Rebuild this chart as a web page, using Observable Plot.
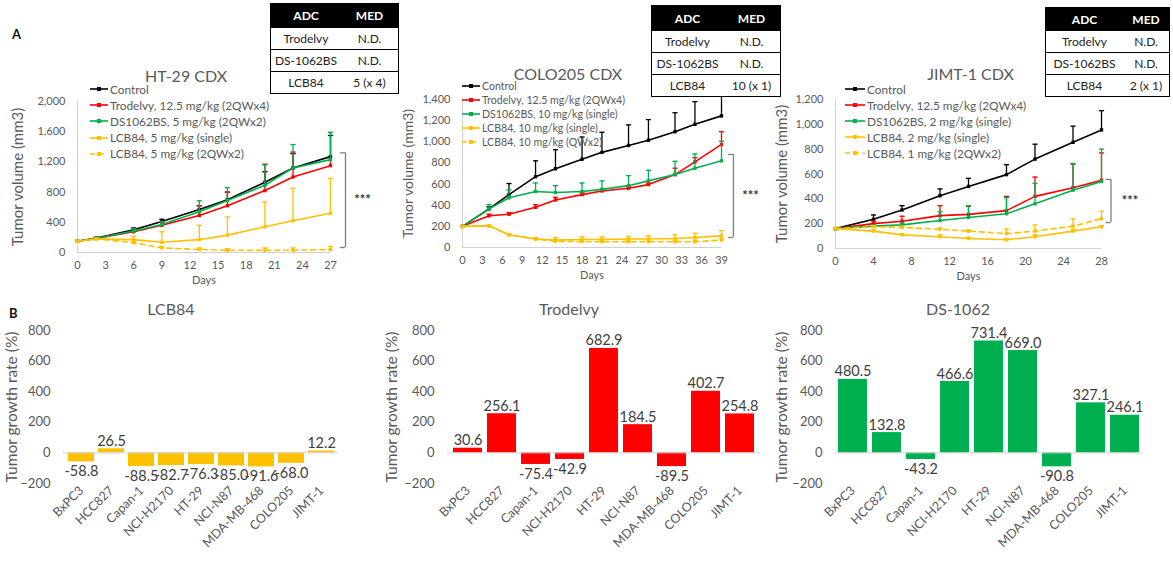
<!DOCTYPE html>
<html><head><meta charset="utf-8">
<script src="https://cdn.jsdelivr.net/npm/d3@7"></script>
<script src="https://cdn.jsdelivr.net/npm/@observablehq/plot@0.6"></script>
<style>
body{margin:0;background:#fff;font-family:Lato,"Open Sans",sans-serif}
#fig{position:relative;width:1173px;height:567px;overflow:hidden;background:#fff}
.abs{position:absolute}
.lg{position:absolute;color:#595959;white-space:nowrap}
.lg .row{display:flex;align-items:center}
.lg svg{display:block;flex:none}
table.med{position:absolute;border-collapse:collapse;font-size:12px;color:#222;background:#fff;border:1.5px solid #000}
table.med th{background:#000;color:#fff;font-weight:bold;padding:0;text-align:center}
table.med td{padding:0;text-align:center;border-top:1px solid #000}
.tag{position:absolute;font-weight:bold;font-size:13px;color:#111}
</style></head><body><div id="fig"></div>
<script>
// ---------- DATA ----------
const colors = {control:"#000000", trodelvy:"#ff0000", ds:"#00b050", lcb:"#ffc000"};

// HT-29 CDX
const ht29Days = [0,2,6,9,13,16,20,23,27];
const ht29Names = ["Control","Trodelvy, 12.5 mg/kg (2QWx4)","DS1062BS, 5 mg/kg (2QWx2)","LCB84, 5 mg/kg (single)","LCB84, 5 mg/kg (2QWx2)"];
const ht29Control = [150,190,300,410,570,700,930,1120,1270];
const ht29ControlSd = [0,10,25,30,50,100,140,190,280];
const ht29Trodelvy = [150,185,275,360,490,620,820,1000,1150];
const ht29TrodelvySd = [0,10,25,40,130,180,350,330,440];
const ht29DS = [150,188,285,370,540,690,890,1120,1230];
const ht29DSSd = [0,10,30,40,145,170,270,310,360];
const ht29LcbSingle = [150,180,170,135,170,230,340,420,520];
const ht29LcbSingleSd = [0,5,45,140,190,240,330,430,460];
const ht29LcbMulti = [150,180,130,60,40,30,30,30,40];
const ht29LcbMultiSd = [0,5,20,20,20,20,30,30,40];
const ht29XTicks = [0,3,6,9,12,15,18,21,24,27];
const ht29YTicks = [0,400,800,1200,1600,2000];
const ht29Table = [["Trodelvy","N.D."],["DS-1062BS","N.D."],["LCB84","5 (x 4)"]];
const ht29Bracket = {day:28.6, top:1320, bottom:66};

// COLO205 CDX
const coloDays = [0,4,7,11,14,18,21,25,28,32,35,39];
const coloNames = ["Control","Trodelvy, 12.5 mg/kg (2QWx4)","DS1062BS, 10 mg/kg (single)","LCB84, 10 mg/kg (single)","LCB84, 10 mg/kg (QWx2)"];
const coloControl = [200,365,500,670,745,835,900,965,1015,1095,1165,1245];
const coloControlSd = [0,20,105,150,180,210,190,195,195,180,215,210];
const coloTrodelvy = [200,300,315,380,450,500,535,560,595,690,810,975];
const coloTrodelvySd = [0,15,15,25,25,20,15,15,15,60,40,120];
const coloDS = [200,365,470,530,520,530,550,585,630,690,750,820];
const coloDSSd = [0,40,75,80,65,80,80,95,100,125,135,185];
const coloLcbSingle = [200,205,120,80,70,75,75,80,80,85,95,110];
const coloLcbSingleSd = [0,5,10,15,25,25,25,25,30,35,40,50];
const coloLcbMulti = [200,205,120,80,60,55,55,55,55,55,55,70];
const coloLcbMultiSd = [0,0,5,10,15,15,15,15,15,15,15,15];
const coloXTicks = [0,3,6,9,12,15,18,21,24,27,30,33,36,39];
const coloYTicks = [0,200,400,600,800,1000,1200,1400];
const coloTable = [["Trodelvy","N.D."],["DS-1062BS","N.D."],["LCB84","10 (x 1)"]];
const coloBracket = {day:40.8, top:880, bottom:95};

// JIMT-1 CDX
const jimtDays = [0,4,7,11,14,18,21,25,28];
const jimtNames = ["Control","Trodelvy, 12.5 mg/kg (2QWx4)","DS1062BS, 2 mg/kg (single)","LCB84, 2 mg/kg (single)","LCB84, 1 mg/kg (2QWx2)"];
const jimtControl = [160,235,310,425,500,595,720,855,955];
const jimtControlSd = [0,35,35,55,65,80,120,130,155];
const jimtTrodelvy = [160,200,220,265,275,305,420,490,550];
const jimtTrodelvySd = [0,20,40,80,65,115,155,190,220];
const jimtDS = [160,180,190,225,250,280,360,470,540];
const jimtDSSd = [0,10,15,70,95,130,165,215,260];
const jimtLcbSingle = [160,140,110,95,80,70,95,140,175];
const jimtLcbSingleSd = [0,10,10,15,10,10,15,15,10];
const jimtLcbMulti = [160,175,170,155,140,120,140,180,240];
const jimtLcbMultiSd = [0,10,10,10,10,35,50,60,60];
const jimtXTicks = [0,4,8,12,16,20,24,28];
const jimtYTicks = [0,200,400,600,800,1000,1200];
const jimtTable = [["Trodelvy","N.D."],["DS-1062BS","N.D."],["LCB84","2 (x 1)"]];
const jimtBracket = {day:29.0, top:556, bottom:209};

// Tumor growth rate (%)
const cellLines = ["BxPC3","HCC827","Capan-1","NCI-H2170","HT-29","NCI-N87","MDA-MB-468","COLO205","JIMT-1"];
const lcb84Rates = [-58.8,26.5,-88.5,-82.7,-76.3,-85.0,-91.6,-68.0,12.2];
const trodelvyRates = [30.6,256.1,-75.4,-42.9,682.9,184.5,-89.5,402.7,254.8];
const ds1062Rates = [480.5,132.8,-43.2,466.6,731.4,669.0,-90.8,327.1,246.1];
const rateTicks = [-200,0,200,400,600,800];

// ---------- HELPERS ----------
const fig = document.getElementById("fig");
const capSymbol = {draw(ctx, size){ const r = Math.sqrt(size/Math.PI); ctx.moveTo(-r,0); ctx.lineTo(r,0); }};
const seriesStyle = [
  {color:colors.control, dash:null},
  {color:colors.trodelvy, dash:null},
  {color:colors.ds, dash:null},
  {color:colors.lcb, dash:null},
  {color:colors.lcb, dash:"5,4"}
];

function place(el, left, top){ const d=document.createElement("div"); d.className="abs"; d.style.left=left+"px"; d.style.top=top+"px"; d.appendChild(el); fig.appendChild(d); return d; }

function lineChart(cfg){
  const {days, values, sds, xTicks, yTicks, yMax, title, titleDx, yLabelOffset, bracket, box} = cfg;
  const marks = [
    Plot.ruleX([0], {stroke:"#d0d0d0"}),
    Plot.ruleY([0], {stroke:"#d0d0d0"})
  ];
  values.forEach((vals, k) => {
    const st = seriesStyle[k];
    const rows = vals.map((v,i) => ({day:days[i], v, top:v + sds[k][i]}));
    const errRows = rows.filter(r => r.top > r.v);
    marks.push(Plot.ruleX(errRows, {x:"day", y1:"v", y2:"top", stroke:st.color, strokeWidth:1.3}));
    marks.push(Plot.dot(errRows, {x:"day", y:"top", symbol:capSymbol, r:2.6, stroke:st.color, strokeWidth:1.3}));
    marks.push(Plot.line(rows, {x:"day", y:"v", stroke:st.color, strokeWidth:1.6, strokeDasharray:st.dash}));
    marks.push(Plot.dot(rows, {x:"day", y:"v", symbol:"square", r:1.9, fill:st.color}));
  });
  marks.push(
    Plot.ruleX([bracket], {x:"day", y1:"top", y2:"bottom", stroke:"#7f7f7f", strokeWidth:1.3}),
    Plot.ruleY([bracket], {y:"top", x1:d => d.day - 5/cfg.pxPerDay, x2:"day", stroke:"#7f7f7f", strokeWidth:1.3}),
    Plot.ruleY([bracket], {y:"bottom", x1:d => d.day - 5/cfg.pxPerDay, x2:"day", stroke:"#7f7f7f", strokeWidth:1.3}),
    Plot.text([bracket], {x:"day", y:d => (d.top + d.bottom)/2, dx:cfg.starDx, text:() => "***", fontSize:13, fill:"#333", textAnchor:"middle", fontWeight:"bold"}),
    Plot.axisX({ticks:xTicks, tickSize:0, tickPadding:9, label:null, fontSize:11}),
    Plot.axisY({ticks:yTicks, tickFormat:d3.format(","), tickSize:0, tickPadding:12, label:null, fontSize:11}),
    Plot.text([title], {frameAnchor:"top", dx:titleDx, dy:-31, text:d => d, fontSize:16, fill:"#595959"}),
    Plot.text(["Tumor volume (mm3)"], {frameAnchor:"left", rotate:-90, textAnchor:"middle", dx:-yLabelOffset, text:d => d, fontSize:cfg.yLabelSize, fill:"#595959"}),
    Plot.text(["Days"], {frameAnchor:"bottom", dy:31, text:d => d, fontSize:11, fill:"#595959"})
  );
  const chart = Plot.plot({
    width:box.w, height:box.h,
    marginLeft:box.ml, marginRight:box.mr, marginTop:box.mt, marginBottom:box.mb,
    x:{domain:[0, days[days.length-1]]},
    y:{domain:[0, yMax]},
    style:{fontFamily:"Lato, sans-serif", color:"#595959", background:"transparent", overflow:"visible", maxWidth:"none"},
    marks
  });
  place(chart, box.left, box.top);
}

function legend(names, left, top, rowH, lineW, fontSize){
  const d = document.createElement("div");
  d.className = "lg"; d.style.left = left+"px"; d.style.top = top+"px"; d.style.fontSize = fontSize+"px";
  names.forEach((n,k) => {
    const st = seriesStyle[k];
    const row = document.createElement("div"); row.className="row"; row.style.height = rowH+"px";
    const s = d3.create("svg").attr("width", lineW).attr("height", 8);
    s.append("line").attr("x1",0).attr("x2",lineW).attr("y1",4).attr("y2",4).attr("stroke",st.color).attr("stroke-width",1.6).attr("stroke-dasharray", st.dash);
    s.append("rect").attr("x",lineW/2-2).attr("y",2).attr("width",4).attr("height",4).attr("fill",st.color);
    row.appendChild(s.node());
    const t = document.createElement("span"); t.textContent = n; t.style.marginLeft = "2px";
    row.appendChild(t);
    d.appendChild(row);
  });
  fig.appendChild(d);
}

function medTable(rows, left, top, w, c1, headH, rowH){
  const t = document.createElement("table"); t.className="med";
  t.style.left = left+"px"; t.style.top = top+"px"; t.style.width = w+"px";
  let html = `<tr style="height:${headH}px"><th style="width:${c1}px">ADC</th><th>MED</th></tr>`;
  rows.forEach(r => { html += `<tr style="height:${rowH}px"><td>${r[0]}</td><td>${r[1]}</td></tr>`; });
  t.innerHTML = html;
  fig.appendChild(t);
}

function barChart(cfg){
  const {values, color, title, titleDx, yLabelOffset, box} = cfg;
  const rows = cellLines.map((c,i) => ({c, v:values[i]}));
  const chart = Plot.plot({
    width:box.w, height:box.h,
    marginLeft:box.ml, marginRight:box.mr, marginTop:box.mt, marginBottom:box.mb,
    x:{domain:cellLines, paddingInner:0.15, paddingOuter:0.075},
    y:{domain:[-200, 800]},
    style:{fontFamily:"Lato, sans-serif", color:"#595959", background:"transparent", overflow:"visible", maxWidth:"none"},
    marks:[
      Plot.barY(rows, {x:"c", y:"v", fill:color}),
      Plot.ruleY([0], {stroke:"#d0d0d0"}),
      Plot.text(rows.filter(r => r.v >= 0), {x:"c", y:"v", text:r => r.v.toFixed(1), lineAnchor:"bottom", dy:-3, fontSize:14.5, fill:"#404040"}),
      Plot.text(rows.filter(r => r.v < 0), {x:"c", y:"v", text:r => r.v.toFixed(1), lineAnchor:"top", dy:4, fontSize:14.5, fill:"#404040"}),
      Plot.axisX({tickRotate:-45, tickSize:0, tickPadding:5, label:null, fontSize:12.5}),
      Plot.axisY({ticks:rateTicks, tickSize:0, tickPadding:13, label:null, fontSize:13}),
      Plot.text([title], {frameAnchor:"top", dx:titleDx, dy:-27, text:d => d, fontSize:16, fill:"#595959"}),
      Plot.text(["Tumor growth rate (%)"], {frameAnchor:"left", rotate:-90, textAnchor:"middle", dx:-yLabelOffset, text:d => d, fontSize:15.5, fill:"#595959"})
    ]
  });
  place(chart, box.left, box.top);
}

// ---------- PANEL A ----------
lineChart({
  days:ht29Days,
  values:[ht29Control, ht29Trodelvy, ht29DS, ht29LcbSingle, ht29LcbMulti],
  sds:[ht29ControlSd, ht29TrodelvySd, ht29DSSd, ht29LcbSingleSd, ht29LcbMultiSd],
  xTicks:ht29XTicks, yTicks:ht29YTicks, yMax:2000, title:"HT-29 CDX", titleDx:-18, yLabelOffset:59, yLabelSize:15,
  bracket:ht29Bracket, pxPerDay:9.37, starDx:17,
  box:{left:0, top:55, w:400, h:240, ml:77, mr:70, mt:46, mb:43}
});
lineChart({
  days:coloDays,
  values:[coloControl, coloTrodelvy, coloDS, coloLcbSingle, coloLcbMulti],
  sds:[coloControlSd, coloTrodelvySd, coloDSSd, coloLcbSingleSd, coloLcbMultiSd],
  xTicks:coloXTicks, yTicks:coloYTicks, yMax:1400, title:"COLO205 CDX", titleDx:-24, yLabelOffset:54, yLabelSize:14,
  bracket:coloBracket, pxPerDay:6.63, starDx:17,
  box:{left:390, top:55, w:395, h:240, ml:72, mr:64, mt:44, mb:48}
});
lineChart({
  days:jimtDays,
  values:[jimtControl, jimtTrodelvy, jimtDS, jimtLcbSingle, jimtLcbMulti],
  sds:[jimtControlSd, jimtTrodelvySd, jimtDSSd, jimtLcbSingleSd, jimtLcbMultiSd],
  xTicks:jimtXTicks, yTicks:jimtYTicks, yMax:1200, title:"JIMT-1 CDX", titleDx:2, yLabelOffset:53, yLabelSize:15,
  bracket:jimtBracket, pxPerDay:9.5, starDx:19,
  box:{left:780, top:55, w:393, h:240, ml:55, mr:72, mt:44, mb:47}
});

legend(ht29Names, 90, 81, 16.2, 18, 11.8);
legend(coloNames, 462, 79, 14, 18, 10.6);
legend(jimtNames, 845, 81, 16, 20, 11.8);

medTable(ht29Table, 270, 3, 129, 70, 24, 22);
medTable(coloTable, 651, 5, 130, 71, 25, 22);
medTable(jimtTable, 1045, 7, 125, 77, 23, 22);

// ---------- PANEL B ----------
barChart({values:lcb84Rates, color:colors.lcb, title:"LCB84", titleDx:-30, yLabelOffset:51,
  box:{left:0, top:290, w:390, h:277, ml:63, mr:52, mt:40, mb:84}});
barChart({values:trodelvyRates, color:colors.trodelvy, title:"Trodelvy", titleDx:-35, yLabelOffset:55,
  box:{left:390, top:290, w:390, h:277, ml:57, mr:20, mt:40, mb:84}});
barChart({values:ds1062Rates, color:colors.ds, title:"DS-1062", titleDx:-31, yLabelOffset:53,
  box:{left:780, top:290, w:393, h:277, ml:55, mr:31, mt:40, mb:84}});

// panel tags
[["A",12,26],["B",9,305]].forEach(([t,x,y]) => {
  const s = document.createElement("div"); s.className="tag"; s.textContent=t; s.style.left=x+"px"; s.style.top=y+"px"; fig.appendChild(s);
});
</script></body></html>
